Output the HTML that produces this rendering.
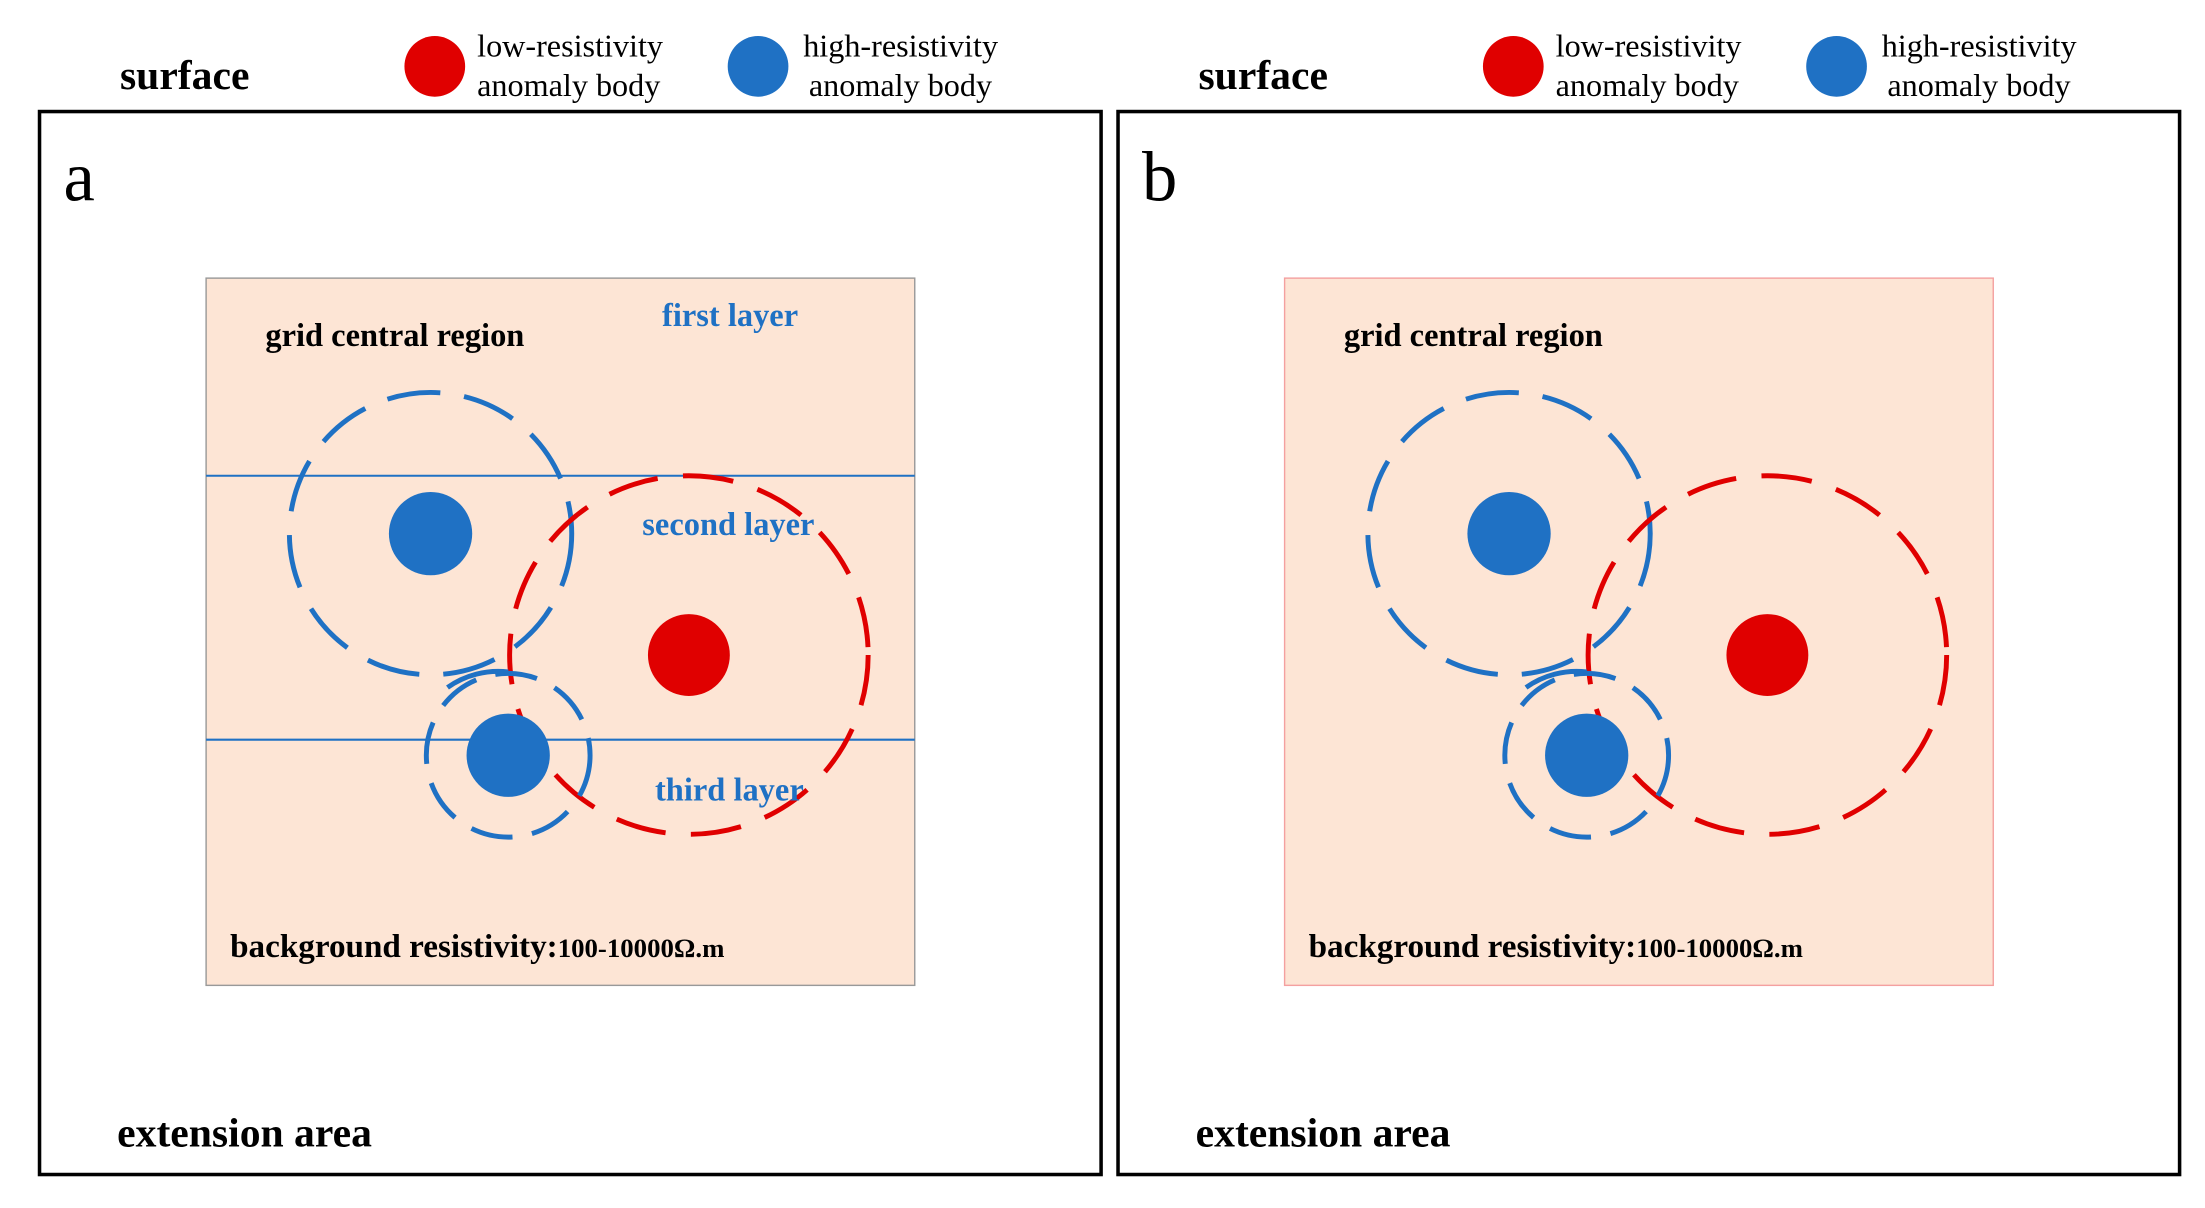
<!DOCTYPE html>
<html><head><meta charset="utf-8"><style>html,body{margin:0;padding:0;background:#fff}svg{display:block}</style></head>
<body>
<svg width="2205" height="1208" viewBox="0 0 1562 855.7" xmlns="http://www.w3.org/2000/svg" font-family="'Liberation Serif', serif">
<defs>
<g id="leg">
<text x="85" y="63" font-size="29.5" font-weight="bold">surface</text>
<circle cx="308" cy="47" r="21.5" fill="#e00000"/>
<text x="338" y="40" font-size="22.8">low-resistivity</text>
<text x="338" y="68" font-size="22.8">anomaly body</text>
<circle cx="537" cy="47" r="21.5" fill="#1f71c4"/>
<text x="569" y="40" font-size="22.8">high-resistivity</text>
<text x="573" y="68" font-size="22.8">anomaly body</text>
<rect x="28" y="79" width="752" height="753" fill="none" stroke="#000" stroke-width="2.5"/>
<text x="83" y="812" font-size="29.5" font-weight="bold">extension area</text>
</g>
<g id="circ">
<circle cx="305" cy="378" r="100" fill="none" stroke="#1f71c4" stroke-width="3.5" stroke-dasharray="38 17"/>
<circle cx="488" cy="464" r="127" fill="none" stroke="#e00000" stroke-width="3.5" stroke-dasharray="36 18"/>
<circle cx="360" cy="535" r="58" fill="none" stroke="#1f71c4" stroke-width="3.5" stroke-dasharray="30 14"/>
<path d="M317 487 A62 62 0 0 1 360 476" fill="none" stroke="#1f71c4" stroke-width="3.5"/>
<circle cx="305" cy="378" r="29.5" fill="#1f71c4"/>
<circle cx="488" cy="464" r="29" fill="#e00000"/>
<circle cx="360" cy="535" r="29.5" fill="#1f71c4"/>
<text x="188" y="245" font-size="23" font-weight="bold">grid central region</text>
<text x="163" y="678" font-size="23.5" font-weight="bold">background resistivity:<tspan font-size="19">100-10000Ω.m</tspan></text>
</g>
</defs>
<use href="#leg"/>
<text x="45" y="142" font-size="50">a</text>
<rect x="146" y="197" width="502" height="501" fill="#fde5d5" stroke="#999" stroke-width="1"/>
<line x1="146" y1="337" x2="648" y2="337" stroke="#1f71c4" stroke-width="1.5"/>
<line x1="146" y1="524" x2="648" y2="524" stroke="#1f71c4" stroke-width="1.5"/>
<use href="#circ"/>
<g fill="#1f71c4" font-size="23" font-weight="bold">
<text x="469" y="231">first layer</text>
<text x="455" y="379">second layer</text>
<text x="464" y="567">third layer</text>
</g>
<g transform="translate(764,0)">
<use href="#leg"/>
<text x="45" y="142" font-size="50">b</text>
<rect x="146" y="197" width="502" height="501" fill="#fde5d5" stroke="#f4a0a0" stroke-width="1"/>
<use href="#circ"/>
</g>
</svg>
</body></html>
